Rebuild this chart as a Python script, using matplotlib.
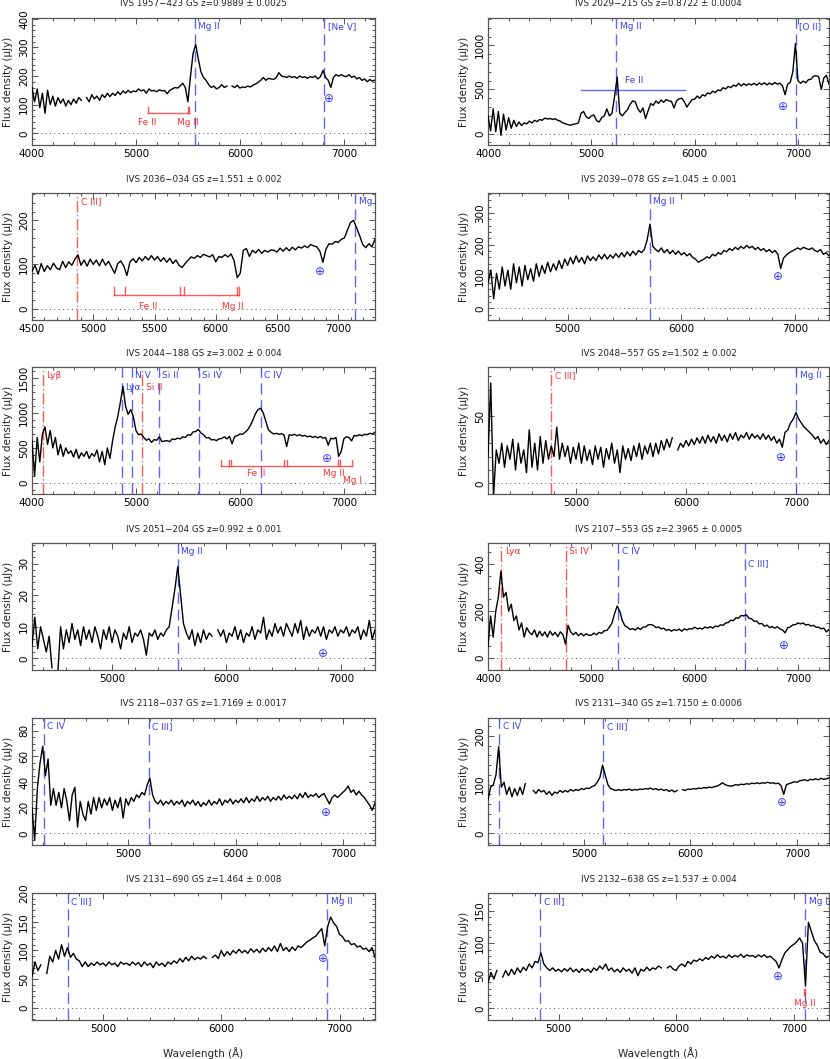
import numpy as np
import matplotlib
matplotlib.use("Agg")
import matplotlib.pyplot as plt
from matplotlib.ticker import MultipleLocator

nan = np.nan
STEP = 25  # wavelength sampling of the typed spectra (Angstrom)

# ---------------- data ----------------
titles = [
    "IVS 1957\u2212423 GS z=0.9889 \u00b1 0.0025",
    "IVS 2029\u2212215 GS z=0.8722 \u00b1 0.0004",
    "IVS 2036\u2212034 GS z=1.551 \u00b1 0.002",
    "IVS 2039\u2212078 GS z=1.045 \u00b1 0.001",
    "IVS 2044\u2212188 GS z=3.002 \u00b1 0.004",
    "IVS 2048\u2212557 GS z=1.502 \u00b1 0.002",
    "IVS 2051\u2212204 GS z=0.992 \u00b1 0.001",
    "IVS 2107\u2212553 GS z=2.3965 \u00b1 0.0005",
    "IVS 2118\u2212037 GS z=1.7169 \u00b1 0.0017",
    "IVS 2131\u2212340 GS z=1.7150 \u00b1 0.0006",
    "IVS 2131\u2212690 GS z=1.464 \u00b1 0.008",
    "IVS 2132\u2212638 GS z=1.537 \u00b1 0.004",
]

starts = [4000, 4000, 4500, 4300, 4000, 4200, 4300, 4000, 4100, 4100, 4400, 4400]

p1_flux = [
    160, 110, 155, 90, 140, 70, 150, 100, 130, 95, 125, 105, 120, 95, 115, 100, 120, 105, 125, 115,
    nan, 125, 110, 135, 120, 130, 115, 135, 125, 140, 128, 140, 132, 145, 135, 148, 140, 150, 142, 148,
    145, 155, 148, 152, 140, 155, 148, 150, 145, 152, 148, 150, 138, 150, 155, 160, 158, 165, 175, 160,
    110, 200, 280, 310, 260, 215, 195, 185, 170, 160, 165, 155, 160, 170, 160, 165, nan, 165, 160, 168,
    158, 162, 160, 165, 162, 168, 172, 178, 185, 195, 185, 192, 190, 188, 195, 212, 200, 198, 195, 200,
    195, 198, 192, 200, 195, 198, 192, 198, 195, 200, 190, 198, 220, 195, 185, 160, 195, 205, 200, 205,
    200, 198, 205, 195, 200, 190, 195, 185, 190, 180, 188, 182, 186]

p2_flux = [
    200, 30, 280, 20, 250, -20, 220, 40, 180, 60, 150, 80, 130, 90, 120, 110, 140, 120, 150, 135,
    160, 150, 175, 165, 170, 160, 168, 150, 140, 120, 110, 100, 95, 105, 110, 120, 230, 250, 190, 170,
    200, 210, 150, 130, 180, 200, 280, 200, 230, 420, 640, 230, 200, 240, 270, 330, 370, 360, 280, 240,
    290, 170, 260, 340, 320, 370, 340, 380, 355, 385, 370, 365, 290, 370, 395, 400, 360, 300, 345, 385,
    390, 425, 400, 440, 425, 460, 450, 480, 465, 495, 485, 520, 505, 535, 520, 550, 535, 570, 540, 565,
    545, 565, 550, 570, 548, 572, 555, 575, 552, 572, 555, 578, 560, 570, 540, 440, 560, 580, 700, 1020,
    600, 570, 595, 575, 610, 615, 650, 655, 645, 500, 630, 660, 560]

p3_flux = [
    85, 98, 78, 102, 84, 97, 88, 103, 92, 88, 107, 93, 106, 98, 112, 122, 98, 110, 96, 112,
    100, 110, 97, 112, 98, 107, 93, 80, 102, 108, 96, 75, 106, 113, 104, 116, 108, 118, 110, 120,
    110, 118, 107, 115, 105, 114, 102, 110, 98, 93, 102, 110, 117, 114, 120, 116, 123, 120, 117, 122,
    106, 118, 116, 122, 117, 124, 108, 70, 80, 132, 136, 118, 132, 126, 134, 125, 132, 128, 133, 132,
    128, 137, 130, 138, 131, 139, 133, 140, 137, 142, 138, 145, 142, 140, 130, 105, 135, 147, 146, 152,
    150, 157, 160, 178, 195, 200, 183, 165, 145, 138, 147, 140, 157]

p4_flux = [
    80, 120, 30, 110, 60, 130, 70, 120, 60, 140, 80, 130, 70, 135, 90, 125, 85, 140, 100, 135,
    110, 145, 115, 140, 120, 150, 125, 155, 135, 160, 140, 165, 145, 160, 140, 165, 150, 162, 150, 168,
    155, 170, 155, 168, 158, 172, 160, 175, 162, 178, 165, 180, 168, 182, 175, 185, 215, 265, 195, 185,
    178, 190, 175, 185, 172, 182, 170, 180, 168, 175, 165, 172, 160, 155, 145, 150, 155, 162, 158, 170,
    165, 175, 170, 182, 178, 188, 182, 192, 185, 195, 188, 198, 190, 195, 185, 192, 182, 188, 178, 185,
    175, 182, 170, 125, 158, 168, 175, 180, 185, 190, 185, 192, 188, 185, 190, 182, 178, 185, 170, 175,
    165]

p5_flux = [
    600, 100, 650, 300, 700, 800, 550, 750, 500, 650, 400, 550, 380, 500, 420, 460, 370, 480, 350, 430,
    380, 450, 350, 420, 380, 470, 300, 450, 260, 500, 350, 600, 800, 950, 1150, 1380, 1100, 980, 1050, 950,
    750, 690, 700, 650, 610, 630, 580, 620, 610, 660, 590, 600, 605, 590, 630, 620, 640, 630, 660, 650,
    690, 680, 730, 735, 765, 715, 690, 645, 650, 615, 620, 605, 630, 635, 660, 630, 665, 560, 665, 675,
    700, 695, 725, 760, 820, 900, 990, 1050, 1070, 1000, 880, 760, 725, 700, 710, 695, 705, 685, 520, 690,
    680, 695, 675, 690, 670, 680, 660, 670, 650, 665, 645, 665, 640, 650, 540, 640, 630, 650, 380, 450,
    630, 660, 650, 600, 680, 670, 690, 675, 695, 690, 710, 700, 725]

p6_flux = [
    20, 75, -10, 25, 15, 30, 12, 28, 18, 33, 10, 30, 15, 25, 8, 40, 12, 30, 10, 35,
    15, 32, 18, 28, 20, 42, 18, 30, 20, 28, 15, 27, 18, 30, 15, 28, 17, 25, 14, 28,
    18, 27, 12, 26, 18, 30, 15, 25, 8, 28, 18, 26, 17, 28, 20, 30, 18, 28, 22, 30,
    20, 30, 22, 32, 25, 33, 27, 34, nan, 25, 30, 27, 32, 28, 33, 29, 34, 30, 35, 30,
    36, 31, 35, 30, 37, 32, 36, 31, 37, 33, 38, 32, 36, 34, 38, 33, 37, 34, 36, 33,
    37, 33, 36, 32, 35, 30, 33, 27, 38, 40, 45, 48, 53, 48, 45, 42, 40, 38, 36, 33,
    35, 30, 33, 29, 32]

p7_flux = [
    4, 13, 3, 10, 6, 2, 7, -3, nan, -5, 10, 3, 9, 5, 11, 6, 9, 4, 10, 6,
    9, 5, 10, 7, 3, 9, 6, 10, 5, 9, 7, 3, 8, 6, 10, 5, 8, 7, 9, 6,
    1, 8, 7, 9, 6, 8, 7, 9, 10, 16, 22, 29, 20, 11, 8, 6, 9, 4, 8, 5,
    9, 6, 8, 7, nan, 9, 7, 9, 5, 8, 7, 10, 6, 9, 5, 8, 7, 10, 6, 9,
    8, 13, 6, 9, 7, 11, 8, 10, 7, 11, 9, 7, 11, 8, 12, 6, 10, 7, 9, 8,
    10, 7, 10, 6, 9, 8, 10, 7, 9, 8, 10, 7, 9, 8, 10, 6, 9, 7, 12, 6,
    9]

p8_flux = [
    50, 180, 90, 200, 260, 370, 260, 280, 200, 230, 160, 180, 120, 150, 90, 130, 110, 100, 120, 90,
    115, 95, 112, 90, 115, 98, 110, 92, 112, 100, 60, 140, 112, 100, 110, 96, 106, 95, 104, 98,
    98, 107, 100, 110, 106, 117, 118, 132, 150, 190, 222, 200, 160, 138, 132, 122, 126, 120, 130, 122,
    132, 133, 142, 143, 140, 130, 133, 125, 128, 118, 123, 115, 122, 118, 124, 115, 125, 120, 126, 124,
    132, 125, 128, 124, 133, 128, 134, 128, 137, 134, 142, 140, 150, 152, 162, 160, 172, 170, 182, 180,
    185, 170, 168, 157, 158, 146, 148, 136, 141, 130, 135, 128, 134, 125, 120, 108, 130, 133, 142, 143,
    150, 146, 150, 141, 144, 137, 140, 132, 132, 125, 128, 112, 122]

p9_flux = [
    20, -5, 35, 55, 68, 45, 58, 22, 35, 22, 32, 20, 35, 25, 10, 30, 36, 5, 25, 15,
    10, 25, 15, 28, 18, 28, 20, 27, 22, 28, 18, 26, 20, 28, 12, 27, 22, 28, 25, 30,
    28, 32, 30, 38, 43, 30, 25, 23, 26, 22, 25, 23, 26, 22, 25, 23, 26, 21, 25, 23,
    26, 22, 25, 21, 24, 22, 26, 22, 25, 23, 27, 22, 26, 24, 27, 23, 26, 24, 27, 24,
    28, 24, 27, 25, 29, 25, 28, 26, 29, 25, 28, 26, 29, 26, 30, 27, 29, 27, 30, 27,
    31, 28, 32, 28, 30, 29, 31, 28, 30, 31, 27, 23, 28, 30, 28, 30, 32, 34, 37, 32,
    34, 30, 33, 30, 28, 25, 22, 18, 24]

p10_flux = [
    70, 95, 100, 120, 178, 95, 105, 80, 95, 75, 92, 78, 95, 80, 102, nan, nan, 88, 82, 90,
    85, 88, 80, 86, 78, 85, 82, 88, 84, 88, 85, 90, 87, 90, 88, 92, 90, 93, 92, 96,
    98, 105, 115, 140, 120, 100, 92, 90, 88, 90, 88, 90, 89, 91, 88, 90, 89, 91, 90, 92,
    91, 93, 90, 92, 89, 91, 88, 90, 86, 89, 85, 88, nan, 90, 88, 91, 90, 92, 91, 93,
    92, 94, 93, 95, 94, 96, 97, 100, 104, 100, 98, 97, 98, 100, 99, 101, 100, 102, 101, 103,
    102, 104, 102, 104, 103, 105, 103, 104, 102, 103, 98, 80, 100, 102, 104, 106, 105, 108, 109, 110,
    108, 111, 110, 112, 110, 113, 111, 112, 114]

p11_flux = [
    55, 80, 65, 75, nan, 60, 90, 80, 100, 85, 110, 90, 105, 88, 95, 85, 82, 72, 80, 72,
    78, 74, 80, 75, 78, 73, 80, 75, 78, 72, 80, 76, 78, 74, 80, 75, 79, 72, 80, 74,
    78, 70, 80, 74, 78, 72, 80, 76, 82, 78, 86, 80, 88, 82, 90, 84, 88, 85, 90, 86,
    nan, 88, 92, 86, 100, 90, 98, 92, 100, 95, 102, 96, 100, 95, 103, 97, 102, 96, 104, 98,
    105, 99, 108, 98, 112, 100, 105, 98, 106, 100, 108, 105, 110, 115, 118, 122, 125, 132, 138, 108,
    142, 158, 148, 142, 128, 124, 116, 117, 110, 112, 106, 108, 102, 104, 98, 105, 88]

p12_flux = [
    40, 55, 45, 58, nan, 48, 58, 50, 60, 52, 62, 55, 63, 58, 68, 62, 72, 70, 85, 68,
    62, 58, 62, 57, 60, 56, 61, 57, 62, 56, 60, 55, 61, 57, 60, 55, 62, 58, 65, 60,
    68, 58, 62, 56, 60, 55, 62, 57, 60, 54, 62, 50, 60, 57, 63, 58, 62, 60, 65, 62,
    nan, 62, 65, 60, 58, 65, 68, 64, 72, 68, 74, 72, 76, 73, 78, 75, 80, 77, 82, 78,
    80, 77, 82, 78, 81, 79, 83, 78, 82, 80, 81, 78, 82, 79, 82, 78, 80, 76, 72, 62,
    75, 85, 90, 95, 98, 102, 108, 100, 35, 132, 118, 104, 97, 86, 84, 78, 80]

fluxes = [p1_flux, p2_flux, p3_flux, p4_flux, p5_flux, p6_flux,
          p7_flux, p8_flux, p9_flux, p10_flux, p11_flux, p12_flux]

xlims = [(4000, 7300), (4000, 7300), (4500, 7300), (4300, 7300), (4000, 7300), (4200, 7300),
         (4300, 7300), (4000, 7300), (4100, 7300), (4100, 7300), (4400, 7300), (4400, 7300)]
ylims = [(-41, 403), (-130, 1310), (-26, 262), (-37, 363), (-160, 1660), (-8, 87),
         (-3.7, 36.5), (-50, 490), (-9, 90), (-24, 237), (-21, 200), (-18, 177)]
x_major = [1000, 1000, 500, 1000, 1000, 1000, 1000, 1000, 1000, 1000, 1000, 1000]
x_minor = [200, 200, 100, 200, 200, 200, 200, 200, 200, 200, 200, 200]
y_major = [100, 500, 100, 100, 500, 50, 10, 200, 20, 100, 50, 50]
y_minor = [20, 100, 20, 20, 100, 10, 2, 50, 5, 20, 10, 10]

# emission-line markers: (wavelength, label, colour, label height as axes fraction)
lines = [
    [(5566, "Mg II", "b", 0.93), (6814, "[Ne V]", "b", 0.93)],
    [(5240, "Mg II", "b", 0.93), (6978, "[O II]", "b", 0.93)],
    [(4870, "C III]", "r", 0.93), (7140, "Mg II", "b", 0.93)],
    [(5723, "Mg II", "b", 0.93)],
    [(4106, "Ly\u03b2", "r", 0.93), (4866, "Ly\u03b1", "b", 0.835), (4962, "N V", "b", 0.93),
     (5059, "Si II", "r", 0.835), (5218, "Si II", "b", 0.93), (5603, "Si IV", "b", 0.93),
     (6199, "C IV", "b", 0.93)],
    [(4776, "C III]", "r", 0.93), (7002, "Mg II", "b", 0.93)],
    [(5575, "Mg II", "b", 0.93)],
    [(4130, "Ly\u03b1", "r", 0.93), (4755, "Si IV", "r", 0.93), (5261, "C IV", "b", 0.93),
     (6484, "C III]", "b", 0.84)],
    [(4208, "C IV", "b", 0.93), (5187, "C III]", "b", 0.93)],
    [(4206, "C IV", "b", 0.93), (5183, "C III]", "b", 0.93)],
    [(4704, "C III]", "b", 0.93), (6896, "Mg II", "b", 0.93)],
    [(4843, "C III]", "b", 0.93), (7100, "Mg II", "b", 0.93)],
]

# telluric absorption marker positions (wavelength, flux)
tell_wl = [6860, 6850, 6846, 6852, 6841, 6866, 6842, 6865, 6844, 6854, 6857, 6866]
tell_y = [121, 312, 85, 99, 355, 19, 1.6, 56, 16.6, 62.6, 86, 49.5]

# absorber systems: panel, colour, bar level, bar span, tick wavelengths, tick top, labels
abs_panel = [0, 1, 2, 4, 11]
abs_color = ["r", "b", "r", "r", "r"]
abs_level = [70, 494, 30, 240, None]
abs_span = [(5112, 5511), (4900, 5910), (5173, 6187), (5820, 7082), None]
abs_ticks = [[5112, 5497, 5511], [], [5173, 5257, 5709, 5738, 6171, 6187],
             [5820, 5895, 5915, 6423, 6456, 6943, 6960, 7082], [7086, 7094]]
abs_tick_top = [91, 494, 49, 327, 29]
abs_tick_bottom = [70, 494, 30, 240, 21]
abs_labels = [[(5111, 38, "Fe II"), (5496, 38, "Mg II")],
              [(5410, 605, "Fe II")],
              [(5448, 4, "Fe II"), (6143, 4, "Mg II")],
              [(6154, 128, "Fe II"), (6905, 128, "Mg II"), (7085, 33, "Mg I")],
              [(7094, 8, "Mg II")]]

# ---------------- drawing ----------------
W, H = 830, 1059
fig = plt.figure(figsize=(W / 100, H / 100), dpi=100)
plt.rcParams["font.family"] = ["DejaVu Sans"]

col_x = [32, 488]
col_w = [343, 341]
row_top = [18, 193, 367, 543, 718, 893]
ax_h = 127

BLUE = "#3b3bff"
RED = "#ff3030"
cmap = {"b": BLUE, "r": RED}
frame_col = "#555555"

axes = []
for i in range(12):
    r, c = divmod(i, 2)
    left = col_x[c] / W
    bottom = 1 - (row_top[r] + ax_h) / H
    ax = fig.add_axes([left, bottom, col_w[c] / W, ax_h / H])
    axes.append(ax)

    wl = starts[i] + STEP * np.arange(len(fluxes[i]))
    ax.plot(wl, fluxes[i], color="black", lw=1.0, zorder=3)
    ax.axhline(0, color="#555555", ls=(0, (1, 3.5)), lw=0.7, zorder=1)

    for (lw_, lab, ck, fy) in lines[i]:
        ls = (0, (8, 4)) if ck == "b" else (0, (8, 2, 1, 2))
        ax.axvline(lw_, color=cmap[ck], ls=ls, lw=1.0, alpha=0.8, zorder=2)
        ax.annotate(lab, xy=(lw_, fy), xycoords=("data", "axes fraction"),
                    xytext=(2.5, 0), textcoords="offset points",
                    ha="left", va="center", color=cmap[ck], fontsize=6.5,
                    clip_on=True, zorder=4)

    ax.text(tell_wl[i], tell_y[i], "\u2295", color=BLUE, fontsize=8.5,
            ha="center", va="center", zorder=4)

    ax.set_xlim(*xlims[i])
    ax.set_ylim(*ylims[i])
    ax.xaxis.set_major_locator(MultipleLocator(x_major[i]))
    ax.xaxis.set_minor_locator(MultipleLocator(x_minor[i]))
    ax.yaxis.set_major_locator(MultipleLocator(y_major[i]))
    ax.yaxis.set_minor_locator(MultipleLocator(y_minor[i]))
    ax.tick_params(which="both", direction="in", top=True, right=True,
                   color=frame_col, labelsize=7.5, width=0.7)
    ax.tick_params(which="major", length=4.5)
    ax.tick_params(which="minor", length=2.2)
    ax.tick_params(axis="x", pad=3)
    ax.tick_params(axis="y", pad=2)
    for lab in ax.get_yticklabels():
        lab.set_rotation(90)
        lab.set_va("center")
    for sp in ax.spines.values():
        sp.set_color(frame_col)
        sp.set_linewidth(0.9)

    ax.set_ylabel("Flux density (\u03bcJy)", fontsize=7.5, color="#222222")
    ax.yaxis.set_label_coords(-19 / col_w[c], 0.5)
    ax.text(0.5, 1 + 14 / ax_h, titles[i], transform=ax.transAxes,
            ha="center", va="center", fontsize=6.3, color="#222222")
    if r == 5:
        ax.set_xlabel("Wavelength (\u00c5)", fontsize=7.5, color="#222222", labelpad=9)

# absorber systems
for k, pi in enumerate(abs_panel):
    ax = axes[pi]
    col = cmap[abs_color[k]]
    if abs_span[k] is not None:
        ax.plot(list(abs_span[k]), [abs_level[k], abs_level[k]], color=col, lw=1.0,
                alpha=0.8, zorder=2)
    for t in abs_ticks[k]:
        ax.plot([t, t], [abs_tick_bottom[k], abs_tick_top[k]], color=col, lw=1.0,
                alpha=0.8, zorder=2)
    for (lx, ly, txt) in abs_labels[k]:
        ax.text(lx, ly, txt, color=col, fontsize=6.5, ha="center", va="center",
                clip_on=True, zorder=4)

fig.savefig("out.png", dpi=100)
